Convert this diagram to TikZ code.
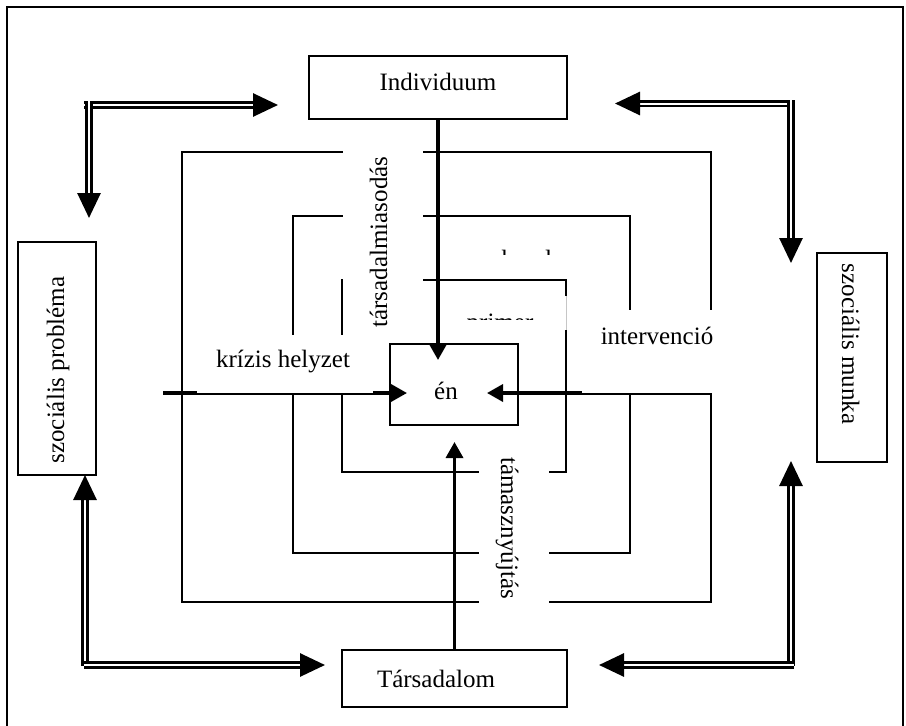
\documentclass[tikz,border=0pt]{standalone}
\usepackage{fontspec}
\setmainfont{Liberation Serif}
\usetikzlibrary{arrows.meta,calc}
\begin{document}
\begin{tikzpicture}[x=1pt,y=-1pt,
  every node/.style={inner sep=0pt, outer sep=0pt, font=\fontsize{25}{30}\selectfont},
  ring/.style={line width=1.6pt},
  boxnode/.style={draw, line width=1.6pt, fill=white, rectangle},
  txt/.style={anchor=base},
  thickarr/.style={line width=3.4pt, -{Triangle[length=16pt,width=17pt]}},
  dblarr/.style={double, double distance=2pt, line width=2.8pt, -{Triangle[length=25pt,width=23pt]}},
  cover/.style={fill=white},
]
\useasboundingbox (0,0) rectangle (906,726);
% frame
\draw[ring] (7,740) -- (7,7) -- (903,7) -- (903,740);
% rings
\draw[ring] (182,152) rectangle (711,602);
\draw[ring] (293,216) rectangle (630,553);
\draw[ring] (342,280) rectangle (566,472);
% boxes
\node[boxnode, minimum width=128pt, minimum height=81pt] (en) at (454,384.5) {};
\node[boxnode, minimum width=258pt, minimum height=63pt] (ind) at (438,87.5) {};
\node[boxnode, minimum width=225pt, minimum height=57pt] (tars) at (454.5,678.5) {};
\node[boxnode, minimum width=78pt, minimum height=233pt] (prob) at (57,358.5) {};
\node[boxnode, minimum width=70pt, minimum height=209pt] (munka) at (852,357.5) {};
% thick arrows
\coordinate (lstart) at (163,393);
\coordinate (rstart) at (711,393);
\draw[thickarr] (ind.south) -- ($(ind.south |- en.north)+(0,16)$);
\draw[thickarr] (tars.north) -- ($(tars.north |- en.south)+(0,17)$);
\draw[thickarr] (lstart) -- ($(en.west |- lstart)+(17,0)$);
\draw[thickarr] (rstart) -- ($(en.east |- rstart)+(-31,0)$);
% covering text boxes
\fill[cover] (343,140) rectangle (423,335);
\fill[cover] (197,335) rectangle (373,392.8);
\fill[cover] (582,310) rectangle (720,392.8);
\fill[cover] (445,296) rectangle (567.5,330);
\fill[cover] (479,455) rectangle (549,612);
\draw[gray!45, line width=0.8pt] (566.6,296) -- (566.6,330);
% texts
\node[txt] (entext) at (446,399) {én};
\node[txt] (indtext) at (438,90) {Individuum};
\node[txt] (tarstext) at (436,687) {Társadalom};
\node[txt] (krizis) at (283,367) {krízis helyzet};
\node[txt] (interv) at (657,344) {intervenció};
\node[rotate=90, anchor=base] (tarsiasod) at (387,242) {társadalmiasodás};
\node[rotate=-90, anchor=base] (tamasz) at (501,528) {támasznyújtás};
\node[rotate=90, anchor=base] (szocprob) at (64,370) {szociális probléma};
\node[rotate=-90, anchor=base] (szocmunka) at (842,344) {szociális munka};
\begin{scope}
  \clip (440,240) rectangle (600,254.6);
  \node[txt] (szek) at (520,267) {szekunder};
\end{scope}
\begin{scope}
  \clip (440,300) rectangle (566,319.8);
  \node[txt] (primer) at (500,330.5) {primer};
\end{scope}
% double arrows
\coordinate (tl1) at (84,105);  \coordinate (tl2) at (278,105);
\coordinate (tl3) at (89,101);  \coordinate (tl4) at (89,218);
\coordinate (tr1) at (794,103.5); \coordinate (tr2) at (615,103.5);
\coordinate (tr3) at (791,100); \coordinate (tr4) at (791,263);
\coordinate (bl1) at (85,666);  \coordinate (bl2) at (85,475);
\coordinate (bl3) at (84,665);  \coordinate (bl4) at (325,665);
\coordinate (br1) at (791,666); \coordinate (br2) at (791,461);
\coordinate (br3) at (794,665); \coordinate (br4) at (599,665);
\draw[dblarr] (tl1) -- (tl2);
\draw[dblarr] (tl3) -- (tl4);
\draw[dblarr] (tr1) -- (tr2);
\draw[dblarr] (tr3) -- (tr4);
\draw[dblarr] (bl1) -- (bl2);
\draw[dblarr] (bl3) -- (bl4);
\draw[dblarr] (br1) -- (br2);
\draw[dblarr] (br3) -- (br4);
\end{tikzpicture}
\end{document}
